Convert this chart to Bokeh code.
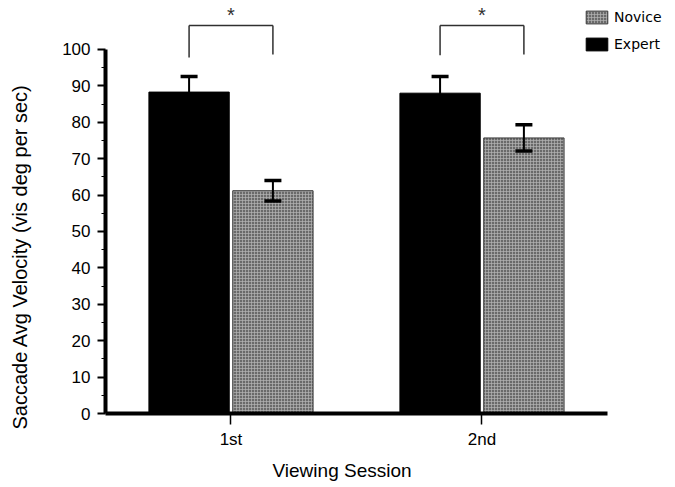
from bokeh.plotting import figure
from bokeh.models import (ColumnDataSource, Whisker, TeeHead, Legend, LegendItem,
                          Title, FixedTicker, Range1d, LinearAxis)
from bokeh.transform import dodge
from bokeh.core.properties import value
from bokeh.embed import file_html
from bokeh.resources import INLINE

# ---- data ----
sessions = ["1st", "2nd"]
expert = [88.3, 88.0]
expert_err = [4.3, 4.6]
novice = [61.2, 75.7]
novice_err = [2.8, 3.6]
bracket_top = [106.6, 106.6]
bracket_left_end = [97.8, 98.4]
bracket_right_end = [98.6, 98.6]
sig_marks = ["*", "*"]
sig_mark_y = [112.4, 112.4]
y_major = [0, 10, 20, 30, 40, 50, 60, 70, 80, 90, 100]
y_minor = [5, 15, 25, 35, 45, 55, 65, 75, 85, 95]
y_top = 113.46

# category slots: each session occupies one unit of the x scale
session_pos = [i + 0.5 for i in range(len(sessions))]

src = ColumnDataSource(dict(
    x=session_pos,
    expert=expert,
    novice=novice,
    expert_up=[v + e for v, e in zip(expert, expert_err)],
    expert_lo=[v - e for v, e in zip(expert, expert_err)],
    novice_up=[v + e for v, e in zip(novice, novice_err)],
    novice_lo=[v - e for v, e in zip(novice, novice_err)],
    top=bracket_top,
    lend=bracket_left_end,
    rend=bracket_right_end,
    mark=sig_marks,
    mark_y=sig_mark_y,
))

FONT = "Liberation Sans"

p = figure(width=675, height=487,
           x_range=Range1d(0, 2.271),
           y_range=Range1d(0, y_top),
           output_backend="svg", toolbar_location=None,
           min_border_left=105, min_border_right=0,
           min_border_top=0, min_border_bottom=74)

p.outline_line_color = None
p.xgrid.visible = False
p.ygrid.visible = False
p.background_fill_color = "white"
p.border_fill_color = "white"

off = 0.167
bw = 0.32
xe = dodge("x", -off)
xn = dodge("x", off)

r_exp = p.vbar(x=xe, top="expert", width=bw, source=src,
               fill_color="black", line_color="black", line_width=1)
r_nov = p.vbar(x=xn, top="novice", width=bw, source=src,
               fill_color="#6a6a6a", line_color="#3a3a3a", line_width=1,
               hatch_pattern="cross", hatch_color="#b4b4b4",
               hatch_scale=3, hatch_weight=1, hatch_alpha=0.7)

for base, up, lo in ((xe, "expert_up", "expert_lo"), (xn, "novice_up", "novice_lo")):
    w = Whisker(base=base, upper=up, lower=lo, source=src,
                line_color="black", line_width=2, level="overlay",
                upper_head=TeeHead(size=17, line_width=3.5, line_color="black"),
                lower_head=TeeHead(size=17, line_width=3.5, line_color="black"))
    p.add_layout(w)

# significance brackets
bk = dict(source=src, line_color="#303030", line_width=1.5)
p.segment(x0=xe, y0="lend", x1=xe, y1="top", **bk)
p.segment(x0=xe, y0="top", x1=xn, y1="top", **bk)
p.segment(x0=xn, y0="top", x1=xn, y1="rend", **bk)
p.text(x="x", y="mark_y", text="mark", source=src,
       text_align="center", text_baseline="top",
       text_font=value(FONT), text_font_size="20px", text_color="#303030")

# y axis
ya = p.yaxis[0]
ya.bounds = (0, 100)
ya.ticker = FixedTicker(ticks=y_major, minor_ticks=y_minor)
ya.axis_line_width = 4
ya.axis_line_color = "black"
ya.major_tick_line_width = 2
ya.major_tick_out = 8
ya.major_tick_in = 0
ya.minor_tick_out = 4
ya.minor_tick_in = 0
ya.minor_tick_line_width = 1
ya.major_label_standoff = 7
ya.major_label_text_font = FONT
ya.major_label_text_font_size = "17px"
ya.major_label_text_color = "black"

# invisible spacer axis (one hidden, unlabeled tick) so the y title sits near the left edge
spacer_tick = [50]
spacer = LinearAxis(ticker=FixedTicker(ticks=spacer_tick, minor_ticks=[]),
                    major_label_overrides={t: "" for t in spacer_tick},
                    axis_line_color=None, major_tick_line_color=None,
                    minor_tick_line_color=None,
                    major_tick_out=27, major_tick_in=0, minor_tick_out=0,
                    major_label_standoff=0)
p.add_layout(spacer, "left")

# x axis
xa = p.xaxis[0]
xa.bounds = (0, 2)
xa.ticker = FixedTicker(ticks=session_pos, minor_ticks=[])
xa.major_label_overrides = {pos: name for pos, name in zip(session_pos, sessions)}
xa.axis_line_width = 4
xa.axis_line_color = "black"
xa.major_tick_out = 11
xa.major_tick_in = 0
xa.major_tick_line_width = 1.5
xa.minor_tick_line_color = None
xa.major_label_standoff = 5
xa.major_label_text_font = FONT
xa.major_label_text_font_size = "17px"
xa.major_label_text_color = "black"

# axis titles as side-panel titles so they can be placed like the reference
p.add_layout(Title(text="Viewing Session", align="left", offset=167,
                   vertical_align="bottom", standoff=12, padding=0,
                   text_line_height=0.8,
                   text_font=FONT, text_font_size="19px",
                   text_font_style="normal", text_color="black"), "below")
p.add_layout(Title(text="Saccade Avg Velocity (vis deg per sec)", align="left",
                   offset=-16, vertical_align="top", standoff=0, padding=0,
                   text_font=FONT, text_font_size="20px",
                   text_font_style="normal", text_color="black"), "left")

legend = Legend(items=[LegendItem(label="Novice", renderers=[r_nov]),
                       LegendItem(label="Expert", renderers=[r_exp])],
                location=(478, 361), padding=0, margin=0, spacing=11,
                glyph_width=27, glyph_height=16, label_height=16,
                label_standoff=4, label_text_font="DejaVu Sans",
                label_text_font_size="14px", label_text_color="black",
                border_line_color=None, background_fill_alpha=0)
p.add_layout(legend)

open("out.html", "w").write(file_html(p, INLINE))
